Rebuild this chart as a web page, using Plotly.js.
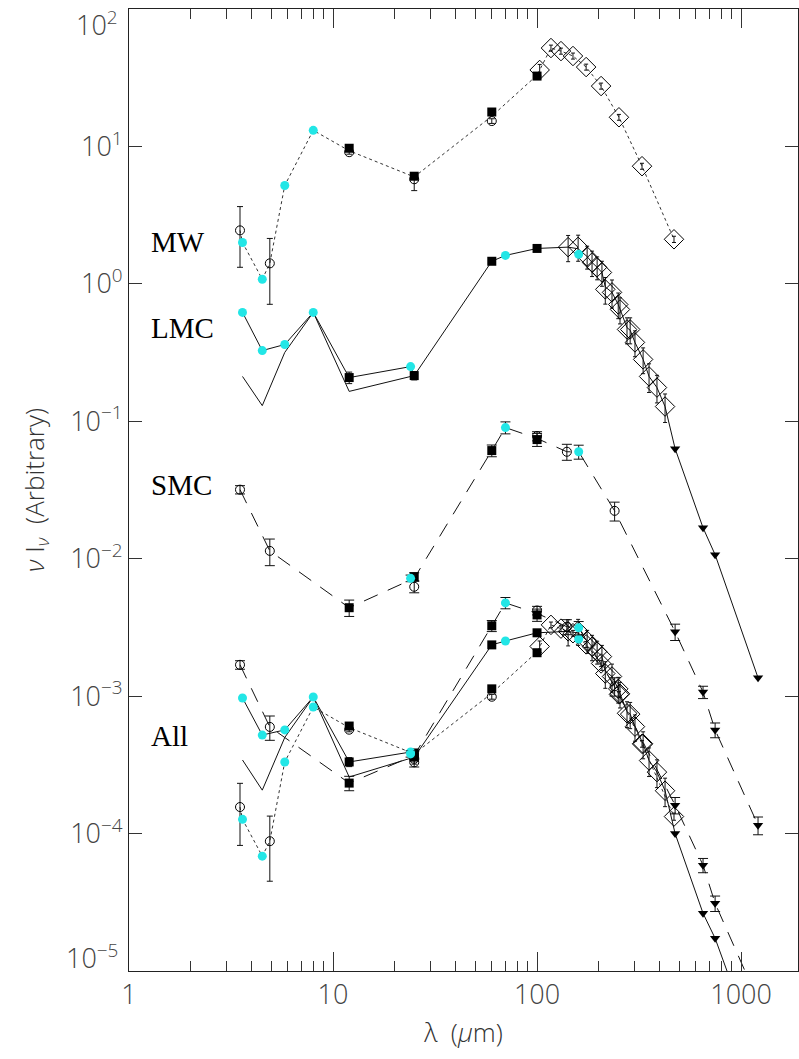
<!DOCTYPE html>
<html><head><meta charset="utf-8">
<script src="https://cdn.plot.ly/plotly-3.0.1.min.js"></script>
<style>html,body{margin:0;padding:0;background:#fff}#chart{width:799px;height:1059px}</style>
</head><body><div id="chart"></div>
<script>
// ---------------- axis ticks ----------------
const xTickVals = [1, 10, 100, 1000];
const xTickText = ['1', '10', '100', '1000'];
const yTickVals = [1e-5, 1e-4, 1e-3, 1e-2, 1e-1, 1, 10, 100];
const yTickText = ['', '10<sup>\u22124</sup>', '10<sup>\u22123</sup>', '10<sup>\u22122</sup>',
                   '10<sup>\u22121</sup>', '10<sup>0</sup>', '10<sup>1</sup>', ''];
const yEndLabels = ['10<sup>\u22125</sup>', '10<sup>2</sup>'];
const groupLabels = ['MW', 'LMC', 'SMC', 'All'];

// ---------------- MW ----------------
const mwCircLam = [3.5, 4.9, 12, 25, 60];
const mwCircVal = [2.45, 1.41, 9.08, 5.77, 15.3];
const mwCircErrUp = [1.2, 0.73, 0.3, 0.4, 0.6];
const mwCircErrDn = [1.13, 0.70, 0.3, 1.0, 0.6];
const mwCyanLam = [3.6, 4.5, 5.8, 8.0];
const mwCyanVal = [2.0, 1.08, 5.2, 13.1];
const mwCyanErr = [0.08, 0.05, 0.2, 0.5];
const mwSqLam = [12, 25, 60, 100];
const mwSqVal = [9.7, 6.07, 17.8, 32.5];
const mwDiaLam = [103, 117, 131, 150, 174, 206, 252, 327, 469];
const mwDiaVal = [36.0, 52.0, 49.4, 45.5, 37.8, 27.5, 16.3, 7.18, 2.11];
const mwDiaErr = [3.5, 2.6, 2.5, 2.3, 1.9, 1.4, 0.8, 0.36, 0.11];
const mwLineLam = [3.5, 3.6, 4.5, 4.9, 5.8, 8.0, 12, 25, 60, 100, 117, 131, 150, 174, 206, 252, 327, 469];
const mwLineVal = [2.45, 2.0, 1.08, 1.41, 5.2, 13.1, 9.3, 6.0, 16.6, 33, 52.0, 49.4, 45.5, 37.8, 27.5, 16.3, 7.18, 2.11];

// ---------------- LMC ----------------
const lmcCyanLam = [3.6, 4.5, 5.8, 8.0, 24, 70, 160];
const lmcCyanVal = [0.62, 0.327, 0.362, 0.62, 0.25, 1.61, 1.64];
const lmcSqLam = [12, 25, 60, 100];
const lmcSqVal = [0.208, 0.215, 1.46, 1.81];
const lmcSqErr = [0.02, 0.015, 0.04, 0.05];
const lmcDiaLam = [142, 159, 176, 186, 197, 208, 216, 233, 250, 255, 276, 286, 302, 331, 354, 387, 424];
const lmcDiaVal = [1.85, 1.86, 1.58, 1.43, 1.32, 1.21, 0.912, 0.867, 0.708, 0.651, 0.466, 0.466, 0.375, 0.282, 0.212, 0.176, 0.128];
const lmcDiaErr = [0.4, 0.4, 0.3, 0.3, 0.25, 0.25, 0.2, 0.2, 0.15, 0.14, 0.1, 0.1, 0.08, 0.06, 0.05, 0.04, 0.03];
const lmcTriLam = [475, 651, 746, 1211];
const lmcTriVal = [0.0632, 0.0168, 0.0107, 1.36e-3];
const lmcLineALam = [3.6, 4.5, 5.8, 8.0, 12, 24, 25, 60, 70, 100, 142, 159, 176, 186, 197, 208, 216, 233, 250, 255, 276, 286, 302, 331, 354, 387, 424, 475, 651, 746, 1211];
const lmcLineAVal = [0.62, 0.327, 0.362, 0.62, 0.208, 0.25, 0.215, 1.46, 1.61, 1.81, 1.85, 1.80, 1.58, 1.43, 1.32, 1.21, 0.95, 0.867, 0.708, 0.651, 0.48, 0.46, 0.375, 0.282, 0.212, 0.176, 0.128, 0.0632, 0.0168, 0.0107, 1.36e-3];
const lmcLineBLam = [3.6, 4.5, 5.8, 8.0, 12, 25];
const lmcLineBVal = [0.212, 0.130, 0.317, 0.62, 0.165, 0.215];

// ---------------- SMC ----------------
const smcCircLam = [3.5, 4.9, 25, 100, 140, 240];
const smcCircVal = [0.0318, 0.0114, 6.25e-3, 0.078, 0.060, 0.0223];
const smcCircErr = [0.0022, 0.0025, 0.0006, 0.006, 0.008, 0.0035];
const smcSqLam = [12, 25, 60, 100];
const smcSqVal = [4.4e-3, 7.4e-3, 0.0612, 0.0736];
const smcSqErr = [0.0006, 0.0005, 0.006, 0.008];
const smcCyanLam = [24, 70, 160];
const smcCyanVal = [7.2e-3, 0.090, 0.060];
const smcCyanErr = [0.0004, 0.009, 0.007];
const smcTriLam = [475, 651, 746, 1211];
const smcTriVal = [2.94e-3, 1.07e-3, 5.68e-4, 1.15e-4];
const smcTriErr = [4e-4, 1.1e-4, 7e-5, 1.7e-5];
const smcLineLam = [3.5, 4.9, 12, 25, 60, 70, 100, 140, 160, 240, 475, 651, 746, 1211];
const smcLineVal = [0.0318, 0.0114, 4.4e-3, 7.2e-3, 0.0612, 0.090, 0.075, 0.060, 0.060, 0.0223, 2.94e-3, 1.07e-3, 5.68e-4, 1.15e-4];

// ---------------- All : MW-like (dotted) ----------------
const allMwCircLam = [3.5, 4.9, 12, 25, 60];
const allMwCircVal = [1.56e-4, 8.8e-5, 5.7e-4, 3.5e-4, 9.9e-4];
const allMwCircErrUp = [7.6e-5, 4.6e-5, 2e-5, 3e-5, 4e-5];
const allMwCircErrDn = [7.4e-5, 4.3e-5, 2e-5, 3e-5, 4e-5];
const allMwCyanLam = [3.6, 4.5, 5.8, 8.0];
const allMwCyanVal = [1.27e-4, 6.85e-5, 3.32e-4, 8.34e-4];
const allMwCyanErr = [5e-6, 3e-6, 1.3e-5, 3.3e-5];
const allMwSqLam = [12, 25, 60, 100];
const allMwSqVal = [6.06e-4, 3.86e-4, 1.13e-3, 2.07e-3];
const allMwDiaLam = [103, 117, 131, 150, 174, 206, 252, 327, 469];
const allMwDiaVal = [2.3e-3, 3.3e-3, 3.1e-3, 2.87e-3, 2.38e-3, 1.73e-3, 1.03e-3, 4.5e-4, 1.33e-4];
const allMwDiaErr = [2.2e-4, 1.6e-4, 1.5e-4, 1.4e-4, 1.2e-4, 9e-5, 5e-5, 2.5e-5, 8e-6];
const allMwLineLam = [3.5, 3.6, 4.5, 4.9, 5.8, 8.0, 12, 25, 60, 100, 117, 131, 150, 174, 206, 252, 327, 469];
const allMwLineVal = [1.56e-4, 1.27e-4, 6.85e-5, 8.8e-5, 3.32e-4, 8.34e-4, 5.9e-4, 3.8e-4, 1.05e-3, 2.1e-3, 3.3e-3, 3.1e-3, 2.87e-3, 2.38e-3, 1.73e-3, 1.03e-3, 4.5e-4, 1.33e-4];

// ---------------- All : LMC-like (solid) ----------------
const allLmcCyanLam = [3.6, 4.5, 5.8, 8.0, 24, 70, 160];
const allLmcCyanVal = [9.7e-4, 5.21e-4, 5.68e-4, 9.86e-4, 3.92e-4, 2.52e-3, 2.6e-3];
const allLmcSqLam = [12, 25, 60, 100];
const allLmcSqVal = [3.32e-4, 3.6e-4, 2.36e-3, 2.89e-3];
const allLmcSqErr = [2.5e-5, 2e-5, 6e-5, 7e-5];
const allLmcDiaLam = [142, 159, 176, 186, 197, 208, 216, 233, 250, 255, 276, 286, 302, 331, 354, 387, 424];
const allLmcDiaVal = [2.96e-3, 2.98e-3, 2.53e-3, 2.29e-3, 2.11e-3, 1.94e-3, 1.46e-3, 1.39e-3, 1.13e-3, 1.04e-3, 7.5e-4, 7.4e-4, 6.0e-4, 4.5e-4, 3.4e-4, 2.8e-4, 2.05e-4];
const allLmcDiaErr = [6.4e-4, 6.4e-4, 4.8e-4, 4.8e-4, 4e-4, 4e-4, 3.2e-4, 3.2e-4, 2.4e-4, 2.2e-4, 1.6e-4, 1.6e-4, 1.3e-4, 1e-4, 8e-5, 6.4e-5, 4.8e-5];
const allLmcTriLam = [475, 651, 746, 1211];
const allLmcTriVal = [1.0e-4, 2.63e-5, 1.73e-5, 2.4e-6];
const allLmcLineALam = [3.6, 4.5, 5.8, 8.0, 12, 24, 25, 60, 70, 100, 142, 159, 176, 186, 197, 208, 216, 233, 250, 255, 276, 286, 302, 331, 354, 387, 424, 475, 651, 746, 1211];
const allLmcLineAVal = [9.7e-4, 5.21e-4, 5.68e-4, 9.86e-4, 3.32e-4, 3.92e-4, 3.6e-4, 2.36e-3, 2.52e-3, 2.89e-3, 2.96e-3, 2.88e-3, 2.53e-3, 2.29e-3, 2.11e-3, 1.94e-3, 1.52e-3, 1.39e-3, 1.13e-3, 1.04e-3, 7.7e-4, 7.4e-4, 6.0e-4, 4.5e-4, 3.4e-4, 2.8e-4, 2.05e-4, 1.0e-4, 2.63e-5, 1.73e-5, 2.4e-6];
const allLmcLineBLam = [3.6, 4.5, 5.8, 8.0, 12, 25];
const allLmcLineBVal = [3.43e-4, 2.07e-4, 5.0e-4, 9.86e-4, 2.58e-4, 3.6e-4];

// ---------------- All : SMC-like (dashed) ----------------
const allSmcCircLam = [3.5, 4.9, 25, 100, 140, 240];
const allSmcCircVal = [1.69e-3, 5.97e-4, 3.3e-4, 4.2e-3, 3.2e-3, 1.18e-3];
const allSmcCircErr = [1.2e-4, 1.2e-4, 2.5e-5, 3e-4, 4e-4, 1.8e-4];
const allSmcSqLam = [12, 25, 60, 100];
const allSmcSqVal = [2.33e-4, 3.7e-4, 3.25e-3, 3.9e-3];
const allSmcSqErr = [2.8e-5, 2.5e-5, 3e-4, 4e-4];
const allSmcCyanLam = [24, 70, 160];
const allSmcCyanVal = [3.8e-4, 4.77e-3, 3.14e-3];
const allSmcCyanErr = [2e-5, 4.5e-4, 3.5e-4];
const allSmcTriLam = [475, 651, 746, 1211];
const allSmcTriVal = [1.61e-4, 5.89e-5, 3.11e-5, 6.1e-6];
const allSmcTriErr = [2.2e-5, 7e-6, 4e-6, 9e-7];
const allSmcLineLam = [3.5, 4.9, 12, 25, 60, 70, 100, 140, 160, 240, 475, 651, 746, 1211];
const allSmcLineVal = [1.69e-3, 5.97e-4, 2.33e-4, 3.7e-4, 3.25e-3, 4.77e-3, 4.0e-3, 3.2e-3, 3.14e-3, 1.18e-3, 1.61e-4, 5.89e-5, 3.11e-5, 6.1e-6];

// ---------------- styles ----------------
const CYAN = {symbol: 'circle', size: 9, color: '#22e6e6', line: {width: 0}};
const SQ = {symbol: 'square', size: 9, color: '#000'};
const OC = {symbol: 'circle-open', size: 9, color: '#000', line: {width: 1}};
const DIA = {symbol: 'diamond-open', size: 15, color: '#000', line: {width: 1}};
const TRI = {symbol: 'triangle-down', size: 9, color: '#000'};

const traces = [];
function addLine(lam, val, dash, color) {
  traces.push({x: lam, y: val, type: 'scatter', mode: 'lines', showlegend: false, hoverinfo: 'skip',
               line: {color: color || '#111', width: 1, dash: dash}});
}
function addPts(lam, val, marker, errUp, errDn, capw) {
  const t = {x: lam, y: val, type: 'scatter', mode: 'markers', showlegend: false, marker: marker};
  if (errUp) {
    t.error_y = {type: 'data', array: errUp, arrayminus: errDn || errUp, symmetric: false,
                 color: '#111', thickness: 1, width: capw || 4};
  }
  traces.push(t);
}

// lines
addLine(mwLineLam, mwLineVal, 'dot', '#333');
addLine(lmcLineALam, lmcLineAVal, 'solid');
addLine(lmcLineBLam, lmcLineBVal, 'solid');
addLine(smcLineLam, smcLineVal, '15px,11px');
addLine(allMwLineLam, allMwLineVal, 'dot', '#333');
addLine(allLmcLineALam, allLmcLineAVal, 'solid');
addLine(allLmcLineBLam, allLmcLineBVal, 'solid');
addLine(allSmcLineLam, allSmcLineVal, '15px,11px');

// markers
addPts(mwDiaLam, mwDiaVal, DIA, mwDiaErr, null, 2);
addPts(lmcDiaLam, lmcDiaVal, DIA, lmcDiaErr, null, 2);
addPts(allMwDiaLam, allMwDiaVal, DIA, allMwDiaErr, null, 2);
addPts(allLmcDiaLam, allLmcDiaVal, DIA, allLmcDiaErr, null, 2);

addPts(mwCircLam, mwCircVal, OC, mwCircErrUp, mwCircErrDn, 3);
addPts(smcCircLam, smcCircVal, OC, smcCircErr, null, 5);
addPts(allMwCircLam, allMwCircVal, OC, allMwCircErrUp, allMwCircErrDn, 3);
addPts(allSmcCircLam, allSmcCircVal, OC, allSmcCircErr, null, 5);

addPts(mwSqLam, mwSqVal, SQ);
addPts(lmcSqLam, lmcSqVal, SQ, lmcSqErr, null, 3);
addPts(smcSqLam, smcSqVal, SQ, smcSqErr, null, 5);
addPts(allMwSqLam, allMwSqVal, SQ);
addPts(allLmcSqLam, allLmcSqVal, SQ, allLmcSqErr, null, 3);
addPts(allSmcSqLam, allSmcSqVal, SQ, allSmcSqErr, null, 5);

addPts(mwCyanLam, mwCyanVal, CYAN, mwCyanErr, null, 2);
addPts(lmcCyanLam, lmcCyanVal, CYAN);
addPts(smcCyanLam, smcCyanVal, CYAN, smcCyanErr, null, 5);
addPts(allMwCyanLam, allMwCyanVal, CYAN, allMwCyanErr, null, 2);
addPts(allLmcCyanLam, allLmcCyanVal, CYAN);
addPts(allSmcCyanLam, allSmcCyanVal, CYAN, allSmcCyanErr, null, 5);

addPts(lmcTriLam, lmcTriVal, TRI);
addPts(smcTriLam, smcTriVal, TRI, smcTriErr, null, 5);
addPts(allLmcTriLam, allLmcTriVal, TRI);
addPts(allSmcTriLam, allSmcTriVal, TRI, allSmcTriErr, null, 5);

// minor x ticks (2..9 in each decade)
const minorX = [];
[1, 10, 100, 1000].forEach(d => { for (let k = 2; k <= 9; k++) minorX.push(k * d); });

const FAM = '"Open Sans", "DejaVu Sans", sans-serif';
const tickFont = {family: FAM, size: 27, color: '#444', weight: 300};
const labelY = [0.758, 0.668, 0.505, 0.244];

const annotations = groupLabels.map((t, i) => ({
  text: t, xref: 'paper', yref: 'paper', x: 0.03, y: labelY[i], xanchor: 'left', yanchor: 'middle',
  showarrow: false, font: {family: '"Liberation Serif", "Times New Roman", serif', size: 29, color: '#000'}
}));
// end labels of the y axis, shifted inward as in the original
annotations.push({text: yEndLabels[0], xref: 'paper', yref: 'paper', x: -0.014, y: 0, xanchor: 'right', yanchor: 'bottom',
                  yshift: -7, showarrow: false, font: tickFont});
annotations.push({text: yEndLabels[1], xref: 'paper', yref: 'paper', x: -0.014, y: 1, xanchor: 'right', yanchor: 'top',
                  yshift: 7, showarrow: false, font: tickFont});

const layout = {
  width: 799, height: 1059,
  margin: {l: 129, r: 1, t: 9, b: 88},
  paper_bgcolor: '#fff', plot_bgcolor: '#fff',
  showlegend: false,
  xaxis: {
    type: 'log', range: [0, 3.279], autorange: false,
    tickmode: 'array', tickvals: xTickVals, ticktext: xTickText,
    ticks: 'inside', ticklen: 19, tickwidth: 1, tickcolor: '#333',
    minor: {tickmode: 'array', tickvals: minorX, ticks: 'inside', ticklen: 10, tickwidth: 1, tickcolor: '#333', showgrid: false},
    showline: true, linecolor: '#222', linewidth: 1, mirror: 'ticks',
    showgrid: false, zeroline: false,
    tickfont: tickFont,
    title: {text: '\u03bb  (<i>\u03bc</i>m)', font: {family: FAM, size: 26, color: '#333', weight: 300}, standoff: 12}
  },
  yaxis: {
    type: 'log', range: [-5, 2], autorange: false,
    tickmode: 'array', tickvals: yTickVals, ticktext: yTickText,
    ticks: 'inside', ticklen: 13, tickwidth: 1, tickcolor: '#333',
    showline: true, linecolor: '#222', linewidth: 1, mirror: 'ticks',
    showgrid: false, zeroline: false,
    tickfont: tickFont,
    title: {text: '<i>\u03bd</i> I<sub><i>\u03bd</i></sub>  (Arbitrary)', font: {family: FAM, size: 26, color: '#333', weight: 300}, standoff: 18}
  },
  annotations: annotations
};

Plotly.newPlot('chart', traces, layout, {displayModeBar: false, staticPlot: true});
</script>
</body></html>
